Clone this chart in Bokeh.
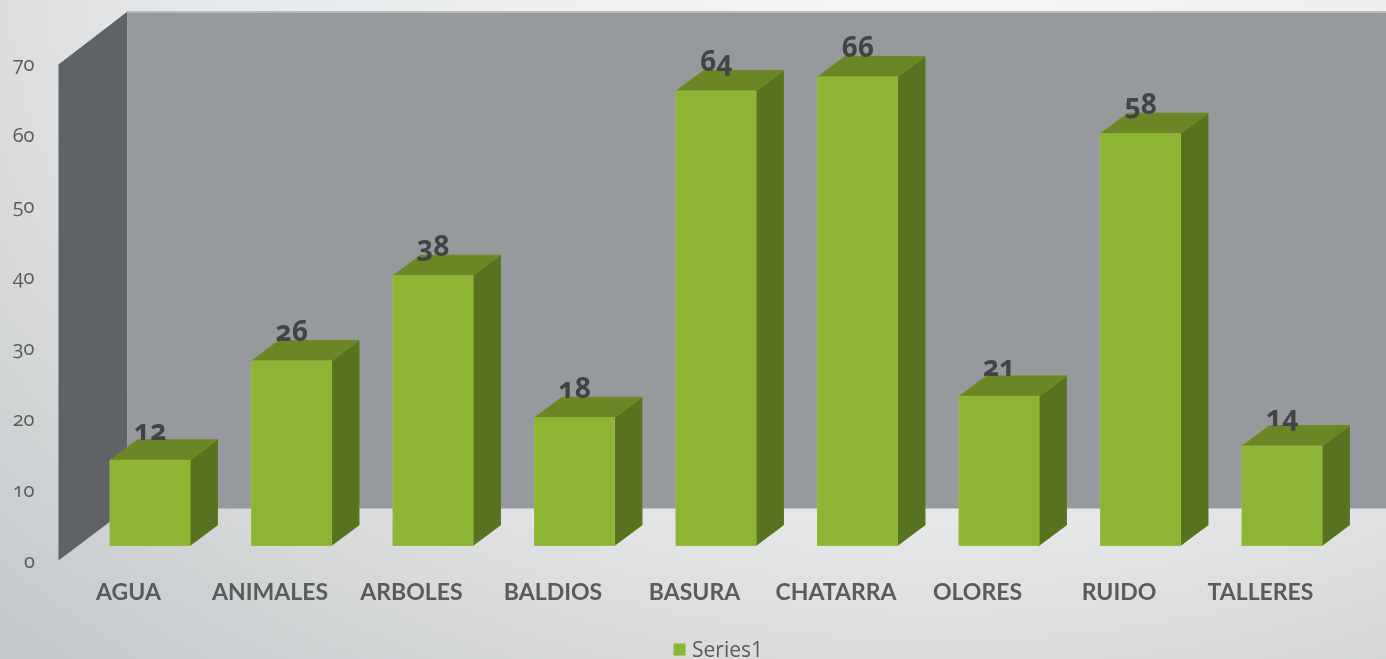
from bokeh.plotting import figure
from bokeh.models import Range1d, LinearAxis, FixedTicker, Legend, LegendItem
from bokeh.core.properties import value
from bokeh.embed import file_html
from bokeh.resources import INLINE

categories = ["AGUA", "ANIMALES", "ARBOLES", "BALDIOS", "BASURA", "CHATARRA", "OLORES", "RUIDO", "TALLERES"]
values = [12, 26, 38, 18, 64, 66, 21, 58, 14]
y_ticks = [0, 10, 20, 30, 40, 50, 60, 70]
series_name = "Series1"

W, H = 1386, 659
FL = 45                    # frame left in page pixels
X0, DX = 149.5, 141.5      # first bar centre, bar spacing
Y0, SY = 545.0, 7.1        # bar base, px per unit
AY0, ASY = 560.0, 7.086    # axis zero, px per unit (front edge of the side wall)
LBL = "Lato"
NUM = "Open Sans"
TXT = "#595b5d"

p = figure(width=W, height=H, frame_width=W - FL, frame_height=H, output_backend="svg", toolbar_location=None,
           x_range=Range1d((FL - X0) / DX, (W - X0) / DX),
           y_range=Range1d((Y0 - H) / SY, Y0 / SY),
           x_axis_type=None, y_axis_type=None,
           min_border_left=FL, min_border_right=0, min_border_top=0, min_border_bottom=0)
p.styles = {"position": "fixed", "left": "0", "top": "0",
            "font-feature-settings": '"onum" 1',
            "background": "radial-gradient(ellipse 1250px 900px at 68% -5%, #f6f6f7 0%, #e7e8e9 60%, #d6d8d9 82%, #c4c9cb 105%)"}
p.background_fill_alpha = 0
p.border_fill_alpha = 0
p.outline_line_color = None
p.grid.visible = False

# extra range for the value axis, whose plane is in front of the bars
p.extra_y_ranges["axis"] = Range1d((AY0 - H) / ASY, AY0 / ASY)

yax = LinearAxis(y_range_name="axis", ticker=FixedTicker(ticks=y_ticks))
yax.axis_line_color = None
yax.major_tick_line_color = None
yax.minor_tick_line_color = None
yax.major_label_text_font = NUM
yax.major_label_text_font_size = "20px"
yax.major_label_text_color = TXT
yax.major_label_standoff = 4
p.add_layout(yax, "left")

# walls
px_x = lambda px: (px - X0) / DX
px_y = lambda px: (Y0 - px) / SY
wx0, wx1 = px_x(58), px_x(127)
p.patch([wx0, wx1, wx1, wx0], [px_y(64), px_y(11), px_y(508), px_y(560)], fill_color="#5f6367", line_color=None)
p.patch([wx1, px_x(W + 2), px_x(W + 2), wx1], [px_y(11), px_y(11), px_y(508), px_y(508)], fill_color="#969a9c", line_color=None)
p.line([wx1, px_x(W + 2)], [px_y(11.5)] * 2, line_color="#b9bcbe", line_width=1.5)

# bars
hw = 80 / 2 / DX
dx = 27.5 / DX
dy = 20.5 / SY
xs = list(range(len(values)))
top_x = [[x - hw, x + hw, x + hw + dx, x - hw + dx] for x in xs]
top_y = [[v, v, v + dy, v + dy] for v in values]
side_x = [[x + hw, x + hw + dx, x + hw + dx, x + hw] for x in xs]
side_y = [[0, dy, v + dy, v] for v in values]
p.patches(side_x, side_y, fill_color="#58731f", line_color="#5f7a24", line_width=1)
p.patches(top_x, top_y, fill_color="#6b8624", line_color="#6f8a28", line_width=1)
front = p.quad(left=[x - hw for x in xs], right=[x + hw for x in xs], bottom=[0] * len(xs), top=values,
               fill_color="#8cb533", line_color="#94bb3e", line_width=1)

# value labels
p.text(xs, [v + dy + 10 / SY for v in values], text=[str(v) for v in values],
       text_font=value(NUM), text_font_style="bold", text_font_size="28px",
       text_color="#414347", text_align="center", text_baseline="alphabetic")

# category labels, in the plane of the axis
p.text([x - 21.5 / DX for x in xs], [px_y(590)] * len(xs), text=categories,
       text_font=value(LBL), text_font_style="bold", text_font_size="23px",
       text_color=TXT, text_align="center", text_baseline="middle")

legend = Legend(items=[LegendItem(label=series_name, renderers=[front])], orientation="horizontal",
                location=(627, -4), border_line_color=None, background_fill_alpha=0,
                glyph_width=14, glyph_height=14, label_standoff=6, padding=0, margin=0,
                label_text_font=NUM, label_text_font_size="21px", label_text_color=TXT)
p.add_layout(legend, "center")

open("out.html", "w").write(file_html(p, INLINE))
